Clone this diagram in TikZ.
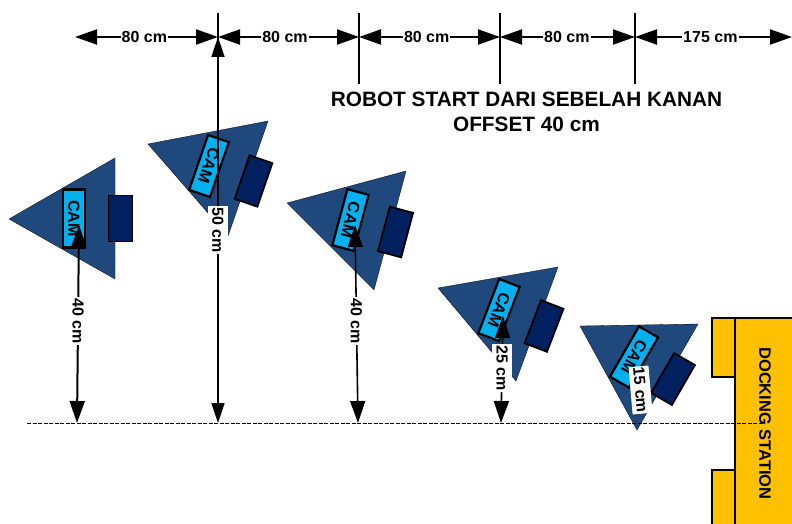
\documentclass[tikz,border=0pt]{standalone}
\usepackage{fontspec}
\setmainfont{Liberation Sans}
\usetikzlibrary{arrows.meta}
\definecolor{bodyblue}{HTML}{1F497D}
\definecolor{wheelblue}{HTML}{002060}
\definecolor{camblue}{HTML}{00B0F0}
\definecolor{dockyellow}{HTML}{FFC000}
\tikzset{
  chassis/.style={fill=bodyblue,draw=black,line width=0.3pt,line join=miter},
  cambox/.style={draw=black,line width=2.2pt,fill=camblue,minimum width=22pt,minimum height=58pt,inner sep=0pt,
    font=\fontsize{16}{16}\selectfont\bfseries},
  wheelbox/.style={draw=black,line width=1.8pt,fill=wheelblue,minimum width=24pt,minimum height=46pt,inner sep=0pt},
  dimlabel/.style={fill=white,inner xsep=1pt,inner ysep=0pt,minimum height=20pt,font=\fontsize{16}{16}\selectfont\bfseries},
  dockpart/.style={draw=black,line width=2pt,fill=dockyellow},
  dimh/.style={line width=2pt,{Triangle[length=22pt,width=15pt]}-{Triangle[length=22pt,width=15pt]}},
  dimv/.style={line width=1.6pt,{Triangle[length=22pt,width=15pt]}-{Triangle[length=22pt,width=15pt]}},
  dimtall/.style={line width=1.6pt,{Triangle[length=20pt,width=13pt]}-{Triangle[length=20pt,width=13pt]}},
  tick/.style={line width=2.2pt}
}
\begin{document}
\begin{tikzpicture}[x=1pt,y=-1pt]
\useasboundingbox (0,0) rectangle (792,524);
% docking station
\draw[dockpart] (712,318) rectangle (735,377);
\draw[dockpart] (712,470) -- (735,470) -- (735,526) -- (712,526) -- cycle;
\draw[dockpart] (794,318) -- (735,318) -- (735,526) -- (794,526) -- cycle;
\node[rotate=-90,font=\fontsize{16.5}{16.5}\selectfont\bfseries] (dock) at (765,423.5) {DOCKING STATION};
% robots
\draw[chassis] (9,219) -- (115,158) -- (115,279) -- cycle;
\node[cambox] (cam1) at (74,218.5) {\rotatebox{-90}{CAM}};
\node[wheelbox] (wheel1) at (120.5,218.5) {};
\draw[chassis] (148,144) -- (268,121) -- (228,236) -- cycle;
\node[cambox,rotate=-19] (cam2) at (209,166) {\rotatebox{-90}{CAM}};
\node[wheelbox,rotate=-19] (wheel2) at (253.5,181) {};
\draw[chassis] (287,203) -- (406,171) -- (374,290) -- cycle;
\node[cambox,rotate=-15] (cam3) at (350.5,220) {\rotatebox{-90}{CAM}};
\node[wheelbox,rotate=-15] (wheel3) at (395.5,232) {};
\draw[chassis] (438,288) -- (558,267) -- (516,381) -- cycle;
\node[cambox,rotate=-21] (cam4) at (499,310) {\rotatebox{-90}{CAM}};
\node[wheelbox,rotate=-21] (wheel4) at (544,326) {};
\draw[chassis] (580,326) -- (698,324) -- (637,430) -- cycle;
\node[cambox,rotate=-30] (cam5) at (634,357) {\rotatebox{-90}{CAM}};
\node[wheelbox,rotate=-30] (wheel5) at (673,379) {};
% baseline
\coordinate (baseL) at (27,423.5);
\coordinate (baseR) at (762,423.5);
\draw[line width=0.7pt,dash pattern=on 4pt off 1.5pt] (baseL) -- (baseR);
% horizontal spacing dimensions
\coordinate (t0) at (75,37);
\coordinate (t1) at (218,37);
\coordinate (t2) at (359,37);
\coordinate (t3) at (500,37);
\coordinate (t4) at (635,37);
\coordinate (t5) at (792,37);
\draw[tick] (218,13) -- (218,84);
\draw[tick] (359,13) -- (359,84);
\draw[tick] (500,13) -- (500,84);
\draw[tick] (635,13) -- (635,84);
\draw[dimh] (t0) -- node[dimlabel,pos=0.485] (h1) {80 cm} (t1);
\draw[dimh] (t1) -- node[dimlabel,pos=0.475] (h2) {80 cm} (t2);
\draw[dimh] (t2) -- node[dimlabel,pos=0.48] (h3) {80 cm} (t3);
\draw[dimh] (t3) -- node[dimlabel,pos=0.495] (h4) {80 cm} (t4);
\draw[dimh] (t4) -- node[dimlabel,pos=0.48] (h5) {175 cm} (t5);
% vertical clearance dimensions
\coordinate (v1a) at (79,225);
\coordinate (v1b) at (77,423);
\coordinate (v2b) at (218,423);
\coordinate (v3a) at (355,225);
\coordinate (v3b) at (358,423);
\coordinate (v4a) at (503,316);
\coordinate (v4b) at (501,423);
\draw[dimh] (v1a) -- node[dimlabel,rotate=-90,pos=0.485] (d1) {40 cm} (v1b);
\draw[dimtall] (t1) -- node[dimlabel,rotate=-90,pos=0.5] (d2) {50 cm} (v2b);
\draw[dimv] (v3a) -- node[dimlabel,rotate=-90,pos=0.485] (d3) {40 cm} (v3b);
\draw[dimv] (v4a) -- node[dimlabel,rotate=-90,pos=0.475,xshift=1pt] (d4) {25 cm} (v4b);
\node[dimlabel,rotate=-85] (d5) at (640.5,390) {15 cm};
% caption
\node[align=center,font=\fontsize{20.8}{25}\selectfont\bfseries] (title) at (526.5,112) {ROBOT START DARI SEBELAH KANAN\\OFFSET 40 cm};
\end{tikzpicture}
\end{document}
